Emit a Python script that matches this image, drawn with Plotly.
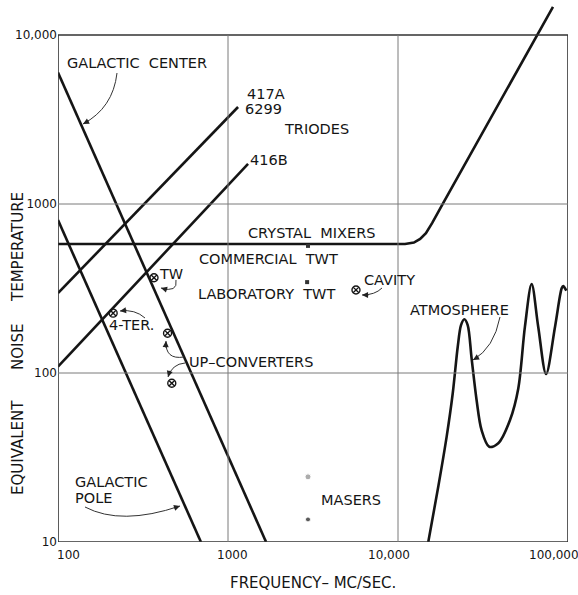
import math
import plotly.graph_objects as go

# ---------------- data ----------------
gal_center_f = [100, 1675]
gal_center_t = [6000, 10]
gal_pole_f = [100, 693]
gal_pole_t = [803, 10]
triode_417a_f = [100, 1146]
triode_417a_t = [297, 3750]
triode_416b_f = [100, 1312]
triode_416b_t = [109, 1726]
crystal_f = [100, 11000, 12400, 13500, 14600, 15900, 18400, 66600, 81600]
crystal_t = [580, 580, 591, 621, 673, 773, 1010, 10000, 14650]
atmos_f = [15070, 17250, 19330, 20990, 22460, 23480, 24560, 25700, 27100, 29000,
           31000, 34400, 38900, 45600, 51000, 55800, 61100, 66800, 74300, 83900,
           91800, 93700, 97800]
atmos_t = [10, 21.2, 42, 75.9, 143, 192, 208, 192, 122, 69,
           46, 36.6, 38.4, 52.7, 81, 188, 336, 188, 98.6, 188,
           317, 327, 307]

# circled-x points: TW, 4-terminal, up-converters (2), cavity
amp_names = ["TW", "4-TER.", "UP-CONVERTER", "UP-CONVERTER", "CAVITY"]
amp_f = [367, 211, 441, 467, 5660]
amp_t = [366, 226, 172, 87, 310]
comm_twt_f = [2955]
comm_twt_t = [565]
lab_twt_f = [2920]
lab_twt_t = [345]
maser_f = [2955, 2955]
maser_t = [24.3, 13.6]

x_tick_vals = [100, 1000, 10000, 100000]
x_tick_text = ["100", "1000", "10,000", "100,000"]
y_tick_vals = [10, 100, 1000, 10000]
y_tick_text = ["10", "100", "1000", "10,000"]
x_grid = [1000, 10000]
y_grid = [100, 1000]
frame_x = [100, 100000]
frame_y = [10, 10000]

# ---------------- layout geometry ----------------
W, H = 578, 595
ML, MR, MT, MB = 58, 10, 0, 53
PW, PH = W - ML - MR, H - MT - MB
X_RANGE = [2, 2 + PW / 170.0]
Y_RANGE = [1, 1 + PH / 169.0]

INK = "#151515"
FONT = "DejaVu Sans"


def P(px, py):
    """pixel position -> paper coordinates"""
    return (px - ML) / PW, (MT + PH - py) / PH


fig = go.Figure()

line_style = dict(color=INK, width=2.6)
for f, t in [(gal_center_f, gal_center_t), (gal_pole_f, gal_pole_t),
             (triode_417a_f, triode_417a_t), (triode_416b_f, triode_416b_t),
             (crystal_f, crystal_t)]:
    fig.add_trace(go.Scatter(x=f, y=t, mode="lines", line=line_style,
                             hoverinfo="skip", showlegend=False))
fig.add_trace(go.Scatter(x=atmos_f, y=atmos_t, mode="lines",
                         line=dict(color=INK, width=2.6, shape="spline", smoothing=0.9),
                         hoverinfo="skip", showlegend=False))

fig.add_trace(go.Scatter(x=amp_f, y=amp_t, mode="markers", text=amp_names,
                         marker=dict(symbol="circle-x-open", size=8, color=INK,
                                     line=dict(width=1.4, color=INK)),
                         showlegend=False))
fig.add_trace(go.Scatter(x=comm_twt_f + lab_twt_f, y=comm_twt_t + lab_twt_t, mode="markers",
                         marker=dict(symbol="square", size=4, color="#333"),
                         showlegend=False))
fig.add_trace(go.Scatter(x=maser_f, y=maser_t, mode="markers",
                         marker=dict(symbol="circle", size=[6, 5], color=["#8a8a8a", INK]),
                         showlegend=False))

shapes = []
# frame
shapes.append(dict(type="rect", xref="x", yref="y", x0=frame_x[0], x1=frame_x[1],
                   y0=frame_y[0], y1=frame_y[1], line=dict(color="#333", width=1.6)))
for gx in x_grid:
    shapes.append(dict(type="line", xref="x", yref="y", x0=gx, x1=gx,
                       y0=frame_y[0], y1=frame_y[1], line=dict(color="#7a7a7a", width=1)))
for gy in y_grid:
    shapes.append(dict(type="line", xref="x", yref="y", x0=frame_x[0], x1=frame_x[1],
                       y0=gy, y1=gy, line=dict(color="#7a7a7a", width=1)))

# curved leader arrows (pixel positions -> paper)
leaders = [
    ((117, 73), (113, 108), (83, 124)),
    ((85, 507), (121, 526), (180, 506)),
    ((500, 317), (494, 348), (473, 360)),
    ((382, 288), (375, 295), (362, 295)),
    ((176, 280), (178, 293), (161, 288)),
    ((145, 318), (135, 309), (120, 311)),
    ((184, 357), (165, 360), (166, 341)),
    ((185, 363), (172, 364), (168, 377)),
]
annotations = []
for p0, c, p2 in leaders:
    a = P(*p0); b = P(*c); d = P(*p2)
    path = f"M {a[0]:.5f},{a[1]:.5f} Q {b[0]:.5f},{b[1]:.5f} {d[0]:.5f},{d[1]:.5f}"
    shapes.append(dict(type="path", xref="paper", yref="paper", path=path,
                       line=dict(color="#333", width=1)))
    dx, dy = c[0] - p2[0], c[1] - p2[1]
    n = math.hypot(dx, dy)
    annotations.append(dict(xref="paper", yref="paper", x=d[0], y=d[1], text="",
                            showarrow=True, arrowhead=2, arrowsize=1.1, arrowwidth=1.1,
                            arrowcolor="#222", ax=dx / n * 8, ay=dy / n * 8, standoff=0))

# labels (left x pixel, center y pixel)
labels = [
    ("GALACTIC\u00a0\u00a0CENTER", 65, 63),
    ("417A", 245, 94),
    ("6299", 243, 109),
    ("TRIODES", 282, 129),
    ("416B", 248, 160),
    ("CRYSTAL\u00a0\u00a0MIXERS", 246, 233),
    ("COMMERCIAL\u00a0\u00a0TWT", 197, 259),
    ("LABORATORY\u00a0\u00a0TWT", 196, 294),
    ("CAVITY", 362, 280),
    ("TW", 157, 274),
    ("4-TER.", 107, 325),
    ("UP\u2013CONVERTERS", 187, 362),
    ("GALACTIC", 73, 482),
    ("POLE", 73, 498),
    ("MASERS", 319, 500),
    ("ATMOSPHERE", 408, 310),
]
for txt, lx, ly in labels:
    x, y = P(lx, ly)
    annotations.append(dict(xref="paper", yref="paper", x=x, y=y, text=txt,
                            showarrow=False, xanchor="left", yanchor="middle",
                            font=dict(family=FONT, size=14.5, color=INK)))

# axis titles
for txt, cy in [("TEMPERATURE", 247), ("NOISE", 347), ("EQUIVALENT", 448)]:
    x, y = P(18, cy)
    annotations.append(dict(xref="paper", yref="paper", x=x, y=y, text=txt, textangle=-90,
                            showarrow=False, xanchor="center", yanchor="middle",
                            font=dict(family=FONT, size=15, color=INK)))
x, y = P(313, 583)
annotations.append(dict(xref="paper", yref="paper", x=x, y=y, text="FREQUENCY\u2013 MC/SEC.",
                        showarrow=False, xanchor="center", yanchor="middle",
                        font=dict(family=FONT, size=15, color=INK)))

# x tick labels (hand-lettered offsets)
x_label_shift = [10, 4, -9, -14]
for v, t, s in zip(x_tick_vals, x_tick_text, x_label_shift):
    annotations.append(dict(xref="x", yref="paper", x=math.log10(v), y=P(0, 555)[1], text=t,
                            showarrow=False, xanchor="center", yanchor="middle", xshift=s,
                            font=dict(family=FONT, size=12, color=INK)))

fig.update_layout(
    width=W, height=H,
    margin=dict(l=ML, r=MR, t=MT, b=MB),
    paper_bgcolor="white", plot_bgcolor="white",
    font=dict(family=FONT, color=INK),
    shapes=shapes, annotations=annotations,
    xaxis=dict(type="log", range=X_RANGE, showgrid=False, zeroline=False, showline=False,
               showticklabels=False, ticks=""),
    yaxis=dict(type="log", range=Y_RANGE, showgrid=False, zeroline=False, showline=False,
               tickvals=y_tick_vals, ticktext=y_tick_text, ticks="",
               tickfont=dict(family=FONT, size=12, color=INK)),
)

fig.write_html("out.html")
